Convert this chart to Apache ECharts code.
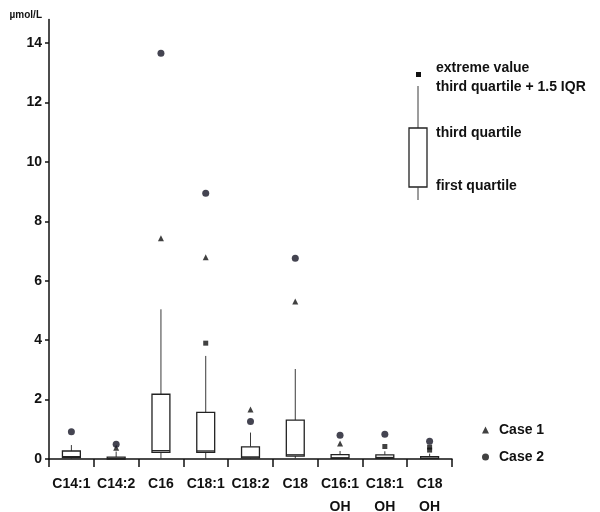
<!DOCTYPE html>
<html>
<head>
<meta charset="utf-8">
<script src="https://cdn.jsdelivr.net/npm/echarts@6/dist/echarts.min.js"></script>
<style>html,body{margin:0;padding:0;background:#fff}#c{width:600px;height:512px}</style>
</head>
<body>
<div id="c"></div>
<script>
var categories = ['C14:1', 'C14:2', 'C16', 'C18:1', 'C18:2', 'C18', 'C16:1\nOH', 'C18:1\nOH', 'C18\nOH'];
// [low whisker, Q1, median, Q3, high whisker]
var boxLow   = [0.0, 0.0, 0.0, 0.0, 0.0, 0.0, 0.0, 0.0, 0.0];
var boxQ1    = [0.05, 0.0, 0.22, 0.22, 0.04, 0.10, 0.02, 0.02, 0.01];
var boxMed   = [0.08, 0.02, 0.28, 0.27, 0.07, 0.14, 0.04, 0.05, 0.03];
var boxQ3    = [0.27, 0.06, 2.18, 1.57, 0.41, 1.31, 0.15, 0.14, 0.08];
var boxHigh  = [0.47, 0.25, 5.04, 3.47, 0.89, 3.03, 0.27, 0.26, 0.18];
var case1    = [null, 0.38, 7.43, 6.79, 1.67, 5.30, 0.52, null, null];
var case2    = [0.92, 0.50, 13.66, 8.95, 1.26, 6.76, 0.80, 0.83, 0.60];
var extremeCat = [3, 7, 8, 8];
var extremeVal = [3.90, 0.42, 0.40, 0.30];
var yTicks = [0, 2, 4, 6, 8, 10, 12, 14];

var boxData = categories.map(function (c, i) {
  return [i, boxLow[i], boxQ1[i], boxMed[i], boxQ3[i], boxHigh[i]];
});
var case1Data = [], case2Data = [], extremeData = [];
categories.forEach(function (c, i) {
  if (case1[i] != null) case1Data.push([i, case1[i]]);
  if (case2[i] != null) case2Data.push([i, case2[i]]);
});
extremeCat.forEach(function (ci, k) { extremeData.push([ci, extremeVal[k]]); });

var ink = '#111';
var lineCol = '#3a3a3a';

function renderBox(params, api) {
  var x = api.value(0);
  var pLow = api.coord([x, api.value(1)]);
  var pQ1 = api.coord([x, api.value(2)]);
  var pMed = api.coord([x, api.value(3)]);
  var pQ3 = api.coord([x, api.value(4)]);
  var pHigh = api.coord([x, api.value(5)]);
  var w = api.size([1, 0])[0] * 0.4;
  var cx = pQ1[0];
  var ls = { stroke: lineCol, lineWidth: 1 };
  return {
    type: 'group',
    children: [
      { type: 'line', shape: { x1: cx, y1: pQ3[1], x2: cx, y2: pHigh[1] }, style: ls },
      { type: 'line', shape: { x1: cx, y1: pQ1[1], x2: cx, y2: pLow[1] }, style: ls },
      { type: 'rect', shape: { x: cx - w / 2, y: pQ3[1], width: w, height: Math.max(pQ1[1] - pQ3[1], 1) },
        style: { fill: '#fff', stroke: '#222', lineWidth: 1.3 } },
      { type: 'line', shape: { x1: cx - w / 2, y1: pMed[1], x2: cx + w / 2, y2: pMed[1] },
        style: { stroke: '#222', lineWidth: 1.3 } }
    ]
  };
}

var chart = echarts.init(document.getElementById('c'));
var boldFont = 'Liberation Sans, Arial, sans-serif';
var legendFont = 'bold 14px Liberation Sans, Arial, sans-serif';
chart.setOption({
  animation: false,
  backgroundColor: '#fff',
  textStyle: { fontFamily: boldFont },
  grid: { left: 49, right: 148, top: 19.4, bottom: 53, containLabel: false, outerBoundsMode: 'none' },
  legend: {
    orient: 'vertical',
    left: 477,
    top: 418,
    itemWidth: 7,
    itemHeight: 7,
    itemGap: 13,
    textStyle: { fontSize: 14, fontWeight: 'bold', color: ink, fontFamily: boldFont, padding: [0, 0, 0, 5] },
    data: [
      { name: 'Case 1', icon: 'triangle', itemStyle: { color: ink } },
      { name: 'Case 2', icon: 'circle', itemStyle: { color: ink } }
    ]
  },
  xAxis: {
    type: 'category',
    data: categories,
    boundaryGap: true,
    axisLine: { lineStyle: { color: ink, width: 1.5 } },
    axisTick: { show: true, length: 8, alignWithLabel: false, lineStyle: { color: ink, width: 1.5 } },
    axisLabel: { interval: 0, margin: 14, fontSize: 14, fontWeight: 'bold', color: ink, lineHeight: 23, fontFamily: boldFont },
    splitLine: { show: false }
  },
  yAxis: {
    type: 'value',
    min: 0,
    max: 14.8,
    interval: 2,
    name: 'µmol/L',
    nameLocation: 'end',
    nameGap: 4,
    nameTextStyle: { align: 'right', verticalAlign: 'middle', fontSize: 10, fontWeight: 'bold', color: ink, padding: [0, 7, 0, 0], fontFamily: boldFont },
    axisLine: { show: true, lineStyle: { color: ink, width: 1.5 } },
    axisTick: { show: true, length: 4, customValues: yTicks, lineStyle: { color: ink, width: 1.5 } },
    axisLabel: { customValues: yTicks, margin: 7, fontSize: 14, fontWeight: 'bold', color: ink, fontFamily: boldFont },
    splitLine: { show: false }
  },
  graphic: [
    { type: 'rect', shape: { x: 416, y: 72, width: 5, height: 5 }, style: { fill: ink } },
    { type: 'text', left: 436, top: 61, style: { text: 'extreme value', font: legendFont, fill: ink } },
    { type: 'text', left: 436, top: 80, style: { text: 'third quartile + 1.5 IQR', font: legendFont, fill: ink } },
    { type: 'line', shape: { x1: 418, y1: 86, x2: 418, y2: 128 }, style: { stroke: lineCol, lineWidth: 1 } },
    { type: 'rect', shape: { x: 409, y: 128, width: 18, height: 59 }, style: { fill: '#fff', stroke: '#222', lineWidth: 1.3 } },
    { type: 'line', shape: { x1: 418, y1: 187, x2: 418, y2: 200 }, style: { stroke: lineCol, lineWidth: 1 } },
    { type: 'text', left: 436, top: 126, style: { text: 'third quartile', font: legendFont, fill: ink } },
    { type: 'text', left: 436, top: 179, style: { text: 'first quartile', font: legendFont, fill: ink } }
  ],
  series: [
    {
      name: 'box',
      type: 'custom',
      renderItem: renderBox,
      encode: { x: 0, y: [1, 2, 3, 4, 5] },
      data: boxData,
      z: 2
    },
    {
      name: 'extreme',
      type: 'scatter',
      symbol: 'rect',
      symbolSize: 5,
      itemStyle: { color: ink },
      data: extremeData,
      z: 3
    },
    {
      name: 'Case 1',
      type: 'scatter',
      symbol: 'triangle',
      symbolSize: 6,
      itemStyle: { color: ink },
      data: case1Data,
      z: 4
    },
    {
      name: 'Case 2',
      type: 'scatter',
      symbol: 'circle',
      symbolSize: 7,
      itemStyle: { color: '#151525' },
      data: case2Data,
      z: 5
    }
  ]
});
</script>
</body>
</html>
